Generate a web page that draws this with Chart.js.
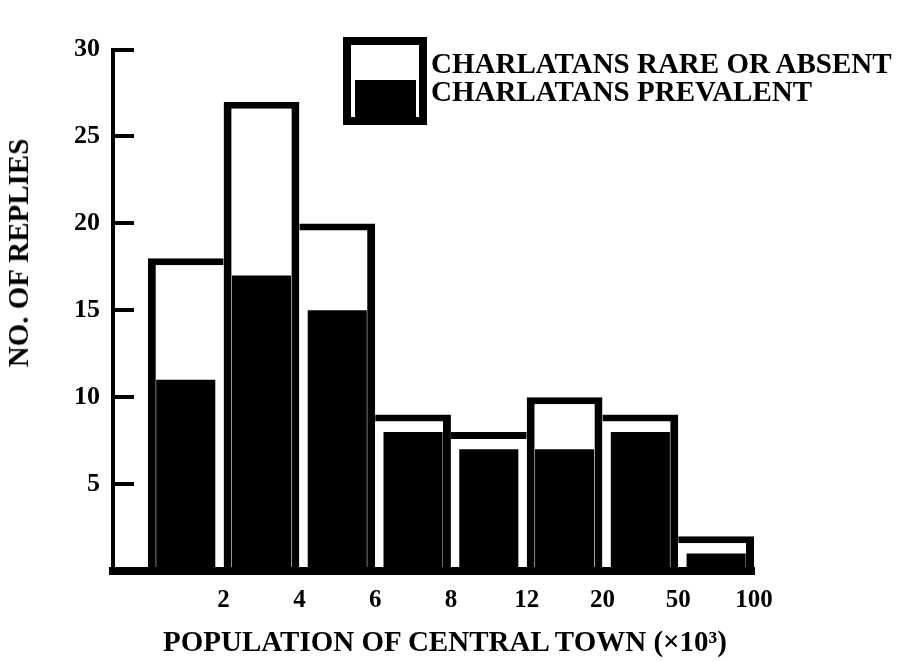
<!DOCTYPE html>
<html>
<head>
<meta charset="utf-8">
<title>Charlatans by population of central town</title>
<script src="https://cdn.jsdelivr.net/npm/chart.js@4.4.1/dist/chart.umd.min.js"></script>
<style>
  body { margin: 0; background: #fff; }
  #wrap { position: relative; width: 902px; height: 662px; }
  .txt {
    position: absolute;
    font-family: "Liberation Serif", "Times New Roman", serif;
    font-weight: bold;
    font-size: 29px;
    line-height: 28px;
    color: #000;
    white-space: nowrap;
  }
  #legendBox {
    position: absolute; left: 343px; top: 37px; width: 84px; height: 88px;
    border: 8px solid #000; box-sizing: border-box; background: #fff;
  }
  #legendBox div {
    position: absolute; left: 4px; right: 3px; top: 35px; bottom: 0; background: #000;
  }
</style>
</head>
<body>
<div id="wrap">
  <canvas id="histChart" width="902" height="662"></canvas>
  <div id="legendBox"><div></div></div>
  <div class="txt" style="left:431px; top:49px;">CHARLATANS RARE OR ABSENT<br>CHARLATANS PREVALENT</div>
  <div class="txt" style="left:18px; top:253px; transform: translate(-50%,-50%) rotate(-90deg);">NO. OF REPLIES</div>
  <div class="txt" style="left:445px; top:627px; transform: translateX(-50%);">POPULATION OF CENTRAL TOWN (×10³)</div>
</div>
<script>
// bin edges shown under the axis (thousands)
const edgeLabels = ["2", "4", "6", "8", "12", "20", "50", "100"];
// number of replies per bin
const rareOrAbsent = [18, 27, 20, 9, 8, 10, 9, 2];
const prevalent = [11, 17, 15, 8, 7, 7, 8, 1];

const serif = "'Liberation Serif', 'Times New Roman', serif";

// neighbouring bars share one wall: the taller one draws it
function outerBorder(ctx) {
    const i = ctx.dataIndex;
    const v = rareOrAbsent;
    if (i === undefined) return 8;
    const left = (i === 0 || v[i] >= v[i - 1]) ? 8 : 0;
    const right = (i === v.length - 1 || v[i] > v[i + 1]) ? 8 : 0;
    return { top: 7, left: left, right: right, bottom: 0 };
}

const data = {
    datasets: [
        {
            label: "CHARLATANS PREVALENT",
            data: prevalent.map((y, i) => ({ x: i + 0.5, y: y })),
            backgroundColor: "#000",
            borderWidth: 0,
            barPercentage: 0.78,
            categoryPercentage: 1,
            inflateAmount: 0
        },
        {
            label: "CHARLATANS RARE OR ABSENT",
            data: rareOrAbsent.map((y, i) => ({ x: i + 0.5, y: y })),
            backgroundColor: "#fff",
            borderColor: "#000",
            borderWidth: outerBorder,
            borderSkipped: false,
            barPercentage: 1,
            categoryPercentage: 1,
            inflateAmount: 0
        }
    ]
};

const config = {
    type: "bar",
    data: data,
    options: {
        responsive: false,
        animation: false,
        events: [],
        layout: { padding: { left: 0, right: 148, top: 18, bottom: 0 } },
        plugins: {
            legend: { display: false },
            tooltip: { enabled: false }
        },
        scales: {
            x: {
                type: "linear",
                stacked: true,
                offset: false,
                bounds: "data",
                min: -0.46,
                max: 8,
                afterBuildTicks: (axis) => {
                    axis.ticks = edgeLabels.map((_, i) => ({ value: i + 1 }));
                },
                afterFit: (axis) => { axis.height = 91; },
                grid: { display: false, drawTicks: false, offset: false },
                border: { display: true, color: "#000", width: 8, z: 1 },
                ticks: {
                    autoSkip: false,
                    maxRotation: 0,
                    padding: 15,
                    color: "#000",
                    font: { family: serif, weight: "bold", size: 25 },
                    callback: (value, index) => edgeLabels[index]
                }
            },
            y: {
                stacked: false,
                min: 0,
                max: 30,
                afterFit: (axis) => { axis.width = 113; },
                grid: {
                    drawOnChartArea: false,
                    drawTicks: true,
                    tickLength: -21,
                    tickWidth: 4,
                    tickColor: "#000",
                    lineWidth: 4,
                    color: "#000"
                },
                border: { display: true, color: "#000", width: 4 },
                ticks: {
                    stepSize: 5,
                    padding: 34,
                    color: "#000",
                    font: { family: serif, weight: "bold", size: 26 },
                    callback: (value) => value === 0 ? "" : value
                }
            }
        }
    }
};

new Chart(document.getElementById("histChart").getContext("2d"), config);
</script>
</body>
</html>
